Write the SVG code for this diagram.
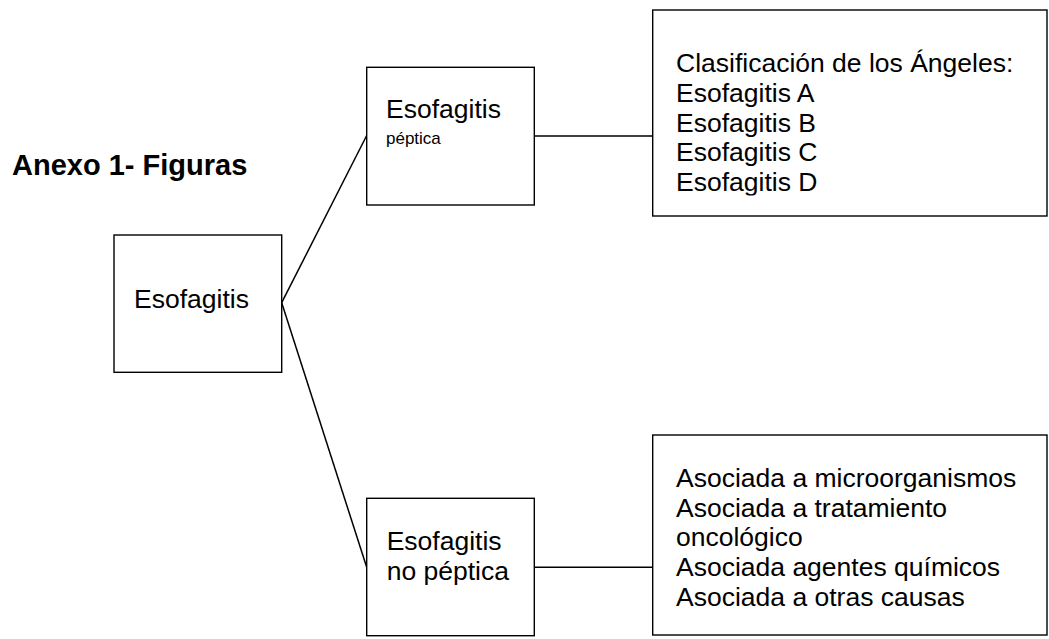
<svg xmlns="http://www.w3.org/2000/svg" width="1049" height="639" viewBox="0 0 1049 639">
<defs>
<style>
.box{fill:#fff;stroke:#000;stroke-width:1.4}
.edge{fill:none;stroke:#000;stroke-width:1.5}
.t{font-family:"Liberation Sans",Arial,sans-serif;font-size:26.5px;fill:#000}
.s{font-family:"Liberation Sans",Arial,sans-serif;font-size:17px;fill:#000}
.title{font-family:"Liberation Sans",Arial,sans-serif;font-size:29px;font-weight:bold;fill:#000}
</style>
<clipPath id="clipTop"><rect x="652" y="10" width="396" height="185.5"/></clipPath>
</defs>
<rect width="1049" height="639" fill="#fff"/>
<text class="title" x="12" y="175">Anexo 1- Figuras</text>
<g id="connectors">
<line class="edge" x1="281.7" y1="302.7" x2="366.7" y2="135.5"/>
<line class="edge" x1="281.7" y1="302.7" x2="366.7" y2="567.3"/>
<line class="edge" x1="534.3" y1="136" x2="652.7" y2="136"/>
<line class="edge" x1="534.3" y1="567.3" x2="652.7" y2="567.3"/>
</g>
<g id="esofagitis">
<rect class="box" x="114" y="235" width="167.7" height="137.3"/>
<text class="t" x="134" y="308">Esofagitis</text>
</g>
<g id="peptica">
<rect class="box" x="366.7" y="67.3" width="167.6" height="137.7"/>
<text class="t" x="386" y="118.3">Esofagitis</text>
<text class="s" x="386" y="144.3">péptica</text>
</g>
<g id="no-peptica">
<rect class="box" x="366.7" y="498.3" width="167.6" height="137.4"/>
<text class="t" x="386.7" y="550">Esofagitis</text>
<text class="t" x="386.7" y="580">no péptica</text>
</g>
<g id="clasificacion">
<rect class="box" x="652.7" y="10" width="394.3" height="206"/>
<g clip-path="url(#clipTop)">
<text class="t" x="676" y="72">Clasificación de los Ángeles:</text>
<text class="t" x="676" y="102">Esofagitis A</text>
<text class="t" x="676" y="131.5">Esofagitis B</text>
<text class="t" x="676" y="161">Esofagitis C</text>
<text class="t" x="676" y="191">Esofagitis D</text>
</g>
</g>
<g id="causas">
<rect class="box" x="652.7" y="435" width="394.3" height="200"/>
<text class="t" x="676" y="486.5">Asociada a microorganismos</text>
<text class="t" x="676" y="516.5">Asociada a tratamiento</text>
<text class="t" x="676" y="546">oncológico</text>
<text class="t" x="676" y="576">Asociada agentes químicos</text>
<text class="t" x="676" y="605.5">Asociada a otras causas</text>
</g>
</svg>
